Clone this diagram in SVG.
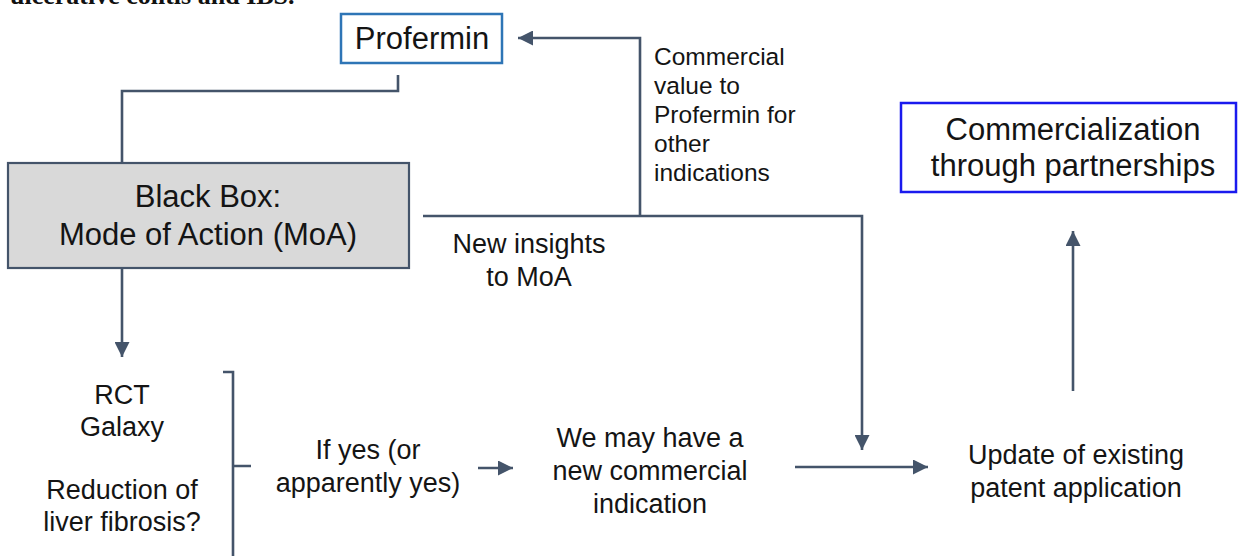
<svg xmlns="http://www.w3.org/2000/svg" width="1239" height="556" viewBox="0 0 1239 556">
<style>
.t{font-family:"Liberation Sans",Arial,sans-serif;fill:#141414;text-anchor:middle}
.b{font-size:27px}
.big{font-size:31px}
.side{font-size:24.5px;text-anchor:start}
.c{fill:none;stroke:#44546a;stroke-width:2.6}
.top{font-family:"Liberation Serif","Times New Roman",serif;font-weight:bold;font-size:26px;fill:#111}
</style>
<defs>
<marker id="ah" viewBox="0 0 10 10" refX="10" refY="5" markerUnits="userSpaceOnUse" markerWidth="16" markerHeight="15" orient="auto">
<path d="M0,0 L10,5 L0,10 z" fill="#44546a"/>
</marker>
</defs>
<rect width="1239" height="556" fill="#ffffff"/>
<text class="top" x="10" y="4">ulcerative colitis and IBS.</text>

<g id="connectors">
<path class="c" d="M398,75 V91 H122 V163"/>
<path class="c" d="M122,268 V357" marker-end="url(#ah)"/>
<path class="c" d="M223,372 H233 V556 M233,466 H251"/>
<path class="c" d="M478,468 H513" marker-end="url(#ah)"/>
<path class="c" d="M423,216 H862 V450" marker-end="url(#ah)"/>
<path class="c" d="M640,216 V38 H518" marker-end="url(#ah)"/>
<path class="c" d="M795,467 H928" marker-end="url(#ah)"/>
<path class="c" d="M1073,391 V231" marker-end="url(#ah)"/>
</g>

<g id="profermin">
<rect x="341" y="14" width="161" height="49" fill="#fff" stroke="#2e75b6" stroke-width="2.5"/>
<text class="t big" x="422" y="49">Profermin</text>
</g>

<g id="blackbox">
<rect x="8" y="163" width="401" height="105" fill="#d9d9d9" stroke="#44546a" stroke-width="2.2"/>
<text class="t big" x="208" y="207">Black Box:</text>
<text class="t big" x="208" y="245">Mode of Action (MoA)</text>
</g>

<g id="commercialization">
<rect x="901" y="103" width="335" height="89" fill="#fff" stroke="#1a1aee" stroke-width="2.5"/>
<text class="t big" x="1073" y="140">Commercialization</text>
<text class="t big" x="1073" y="176">through partnerships</text>
</g>

<g id="commercial-value">
<text class="t side" x="654" y="65">Commercial</text>
<text class="t side" x="654" y="94">value to</text>
<text class="t side" x="654" y="123">Profermin for</text>
<text class="t side" x="654" y="152">other</text>
<text class="t side" x="654" y="181">indications</text>
</g>

<g id="new-insights">
<text class="t b" x="529" y="253">New insights</text>
<text class="t b" x="529" y="286">to MoA</text>
</g>

<g id="rct">
<text class="t b" x="122" y="404">RCT</text>
<text class="t b" x="122" y="436">Galaxy</text>
<text class="t b" x="122" y="499">Reduction of</text>
<text class="t b" x="122" y="531">liver fibrosis?</text>
</g>

<g id="if-yes">
<text class="t b" x="368" y="459">If yes (or</text>
<text class="t b" x="368" y="492">apparently yes)</text>
</g>

<g id="new-indication">
<text class="t b" x="650" y="447">We may have a</text>
<text class="t b" x="650" y="480">new commercial</text>
<text class="t b" x="650" y="513">indication</text>
</g>

<g id="update">
<text class="t b" x="1076" y="464">Update of existing</text>
<text class="t b" x="1076" y="497">patent application</text>
</g>
</svg>
